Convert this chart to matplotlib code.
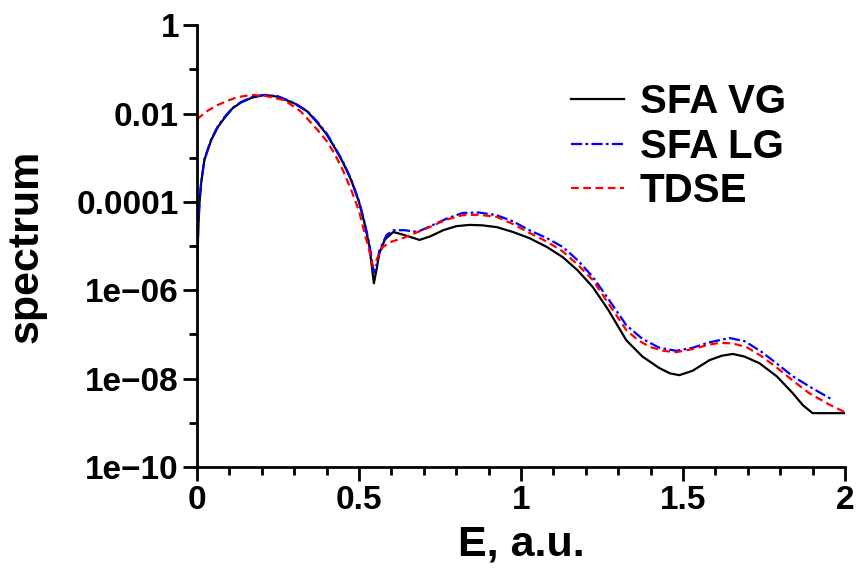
import numpy as np
import matplotlib
matplotlib.use("Agg")
import matplotlib.pyplot as plt
from matplotlib.ticker import FixedLocator, NullFormatter

plt.rcParams['font.family'] = ['Liberation Sans', 'DejaVu Sans']
plt.rcParams['font.weight'] = 'bold'

# SFA VG (black, solid)
vg_E = [0.0, 0.004, 0.008, 0.013, 0.023, 0.044, 0.065, 0.085, 0.11, 0.136, 0.17, 0.208, 0.25,
        0.30, 0.34, 0.373, 0.40, 0.424, 0.45, 0.476, 0.50, 0.517, 0.532, 0.546, 0.555, 0.563,
        0.58, 0.606, 0.64, 0.687, 0.72, 0.76, 0.80, 0.841, 0.88, 0.925, 0.975, 1.026, 1.08,
        1.129, 1.175, 1.222, 1.27, 1.325, 1.375, 1.427, 1.46, 1.489, 1.53, 1.582, 1.62, 1.654,
        1.69, 1.736, 1.79, 1.839, 1.87, 1.90, 1.95, 2.0]
vg_log = [-5.85, -4.6, -4.0, -3.57, -3.05, -2.6, -2.3, -2.1, -1.88, -1.75, -1.64, -1.58, -1.62,
          -1.77, -1.95, -2.22, -2.47, -2.76, -3.1, -3.51, -4.0, -4.48, -5.0, -5.84, -5.5, -5.16,
          -4.85, -4.68, -4.75, -4.86, -4.78, -4.64, -4.55, -4.52, -4.53, -4.57, -4.68, -4.82, -5.02,
          -5.25, -5.55, -5.93, -6.45, -7.13, -7.5, -7.76, -7.88, -7.92, -7.82, -7.58, -7.48, -7.44,
          -7.5, -7.65, -7.95, -8.33, -8.6, -8.78, -8.78, -8.78]

# SFA LG (blue, dash-dot)
lg_E = [0.0, 0.004, 0.008, 0.013, 0.023, 0.044, 0.065, 0.085, 0.11, 0.136, 0.17, 0.208, 0.25,
        0.30, 0.34, 0.373, 0.40, 0.424, 0.45, 0.476, 0.50, 0.517, 0.532, 0.546, 0.555, 0.563,
        0.585, 0.606, 0.64, 0.68, 0.72, 0.77, 0.82, 0.87, 0.925, 0.975, 1.026, 1.08, 1.129,
        1.175, 1.222, 1.27, 1.325, 1.375, 1.427, 1.479, 1.53, 1.58, 1.643, 1.69, 1.74, 1.788,
        1.84, 1.90, 1.962]
lg_log = [-5.7, -4.55, -3.95, -3.55, -3.03, -2.58, -2.28, -2.08, -1.87, -1.74, -1.63, -1.58, -1.61,
          -1.76, -1.94, -2.2, -2.45, -2.74, -3.08, -3.49, -3.98, -4.45, -4.95, -5.6, -5.4, -5.1,
          -4.75, -4.64, -4.64, -4.68, -4.55, -4.38, -4.25, -4.24, -4.3, -4.44, -4.64, -4.82, -5.02,
          -5.32, -5.7, -6.2, -6.79, -7.1, -7.3, -7.37, -7.3, -7.18, -7.08, -7.15, -7.38, -7.65,
          -7.95, -8.22, -8.48]

# TDSE (red, dashed)
td_E = [0.0, 0.03, 0.063, 0.095, 0.125, 0.167, 0.21, 0.27, 0.32, 0.373, 0.40, 0.424, 0.45,
        0.476, 0.50, 0.517, 0.53, 0.543, 0.555, 0.573, 0.60, 0.635, 0.675, 0.718, 0.77, 0.82,
        0.87, 0.925, 0.975, 1.026, 1.08, 1.129, 1.175, 1.222, 1.27, 1.325, 1.36, 1.397, 1.44,
        1.479, 1.53, 1.58, 1.613, 1.65, 1.695, 1.74, 1.788, 1.84, 1.89, 1.95, 2.0]
td_log = [-2.13, -1.95, -1.81, -1.71, -1.63, -1.58, -1.6, -1.70, -1.95, -2.38, -2.62, -2.9, -3.28,
          -3.73, -4.2, -4.7, -5.05, -5.45, -5.3, -5.02, -4.9, -4.82, -4.7, -4.57, -4.4, -4.30,
          -4.29, -4.34, -4.5, -4.7, -4.9, -5.12, -5.42, -5.77, -6.3, -6.9, -7.12, -7.28, -7.37,
          -7.40, -7.33, -7.23, -7.19, -7.2, -7.28, -7.48, -7.74, -8.05, -8.33, -8.58, -8.76]

series_labels = ['SFA VG', 'SFA LG', 'TDSE']
ytick_vals = [1e-10, 1e-8, 1e-6, 1e-4, 1e-2, 1]
ytick_labels = ['1e\u221210', '1e\u221208', '1e\u221206', '0.0001', '0.01', '1']
xtick_vals = [0, 0.5, 1, 1.5, 2]
xtick_labels = ['0', '0.5', '1', '1.5', '2']

fig = plt.figure(figsize=(8.59, 5.71), dpi=100)
ax = fig.add_axes([0.2293, 0.182, 0.7544, 0.774])

ax.plot(vg_E, np.power(10.0, vg_log), color='black', lw=1.6, label=series_labels[0])
ax.plot(lg_E, np.power(10.0, lg_log), color='#0000ff', lw=1.6, dashes=(5, 1.5, 1.2, 1.5),
        label=series_labels[1])
ax.plot(td_E, np.power(10.0, td_log), color='#ff0000', lw=1.6, dashes=(3.5, 2),
        label=series_labels[2])

ax.set_yscale('log')
ax.set_xlim(0, 2)
ax.set_ylim(1e-10, 1)
ax.yaxis.set_major_locator(FixedLocator(ytick_vals))
ax.yaxis.set_minor_locator(FixedLocator([1e-9, 1e-7, 1e-5, 1e-3, 1e-1]))
ax.yaxis.set_minor_formatter(NullFormatter())
ax.set_yticklabels(ytick_labels)
ax.set_xticks(xtick_vals)
ax.set_xticklabels(xtick_labels)
ax.set_xticks(np.arange(0.1, 2.0, 0.1), minor=True)

for s in ['top', 'right']:
    ax.spines[s].set_visible(False)
for s in ['left', 'bottom']:
    ax.spines[s].set_linewidth(2.0)

ax.tick_params(which='major', direction='out', length=10, width=2, labelsize=24, pad=3)
ax.tick_params(which='minor', direction='out', length=6, width=2)
for lab in ax.get_xticklabels() + ax.get_yticklabels():
    lab.set_fontweight('bold')

ax.set_xlabel('E, a.u.', fontsize=31, fontweight='bold', labelpad=6)
ax.set_ylabel('spectrum', fontsize=31, fontweight='bold', labelpad=22)

leg = ax.legend(loc='upper left', bbox_to_anchor=(0.553, 0.905), frameon=False,
                prop={'size': 29, 'weight': 'bold'}, handlelength=1.3, handletextpad=0.4,
                labelspacing=0.16, borderaxespad=0)

fig.savefig('out.png', dpi=100)
